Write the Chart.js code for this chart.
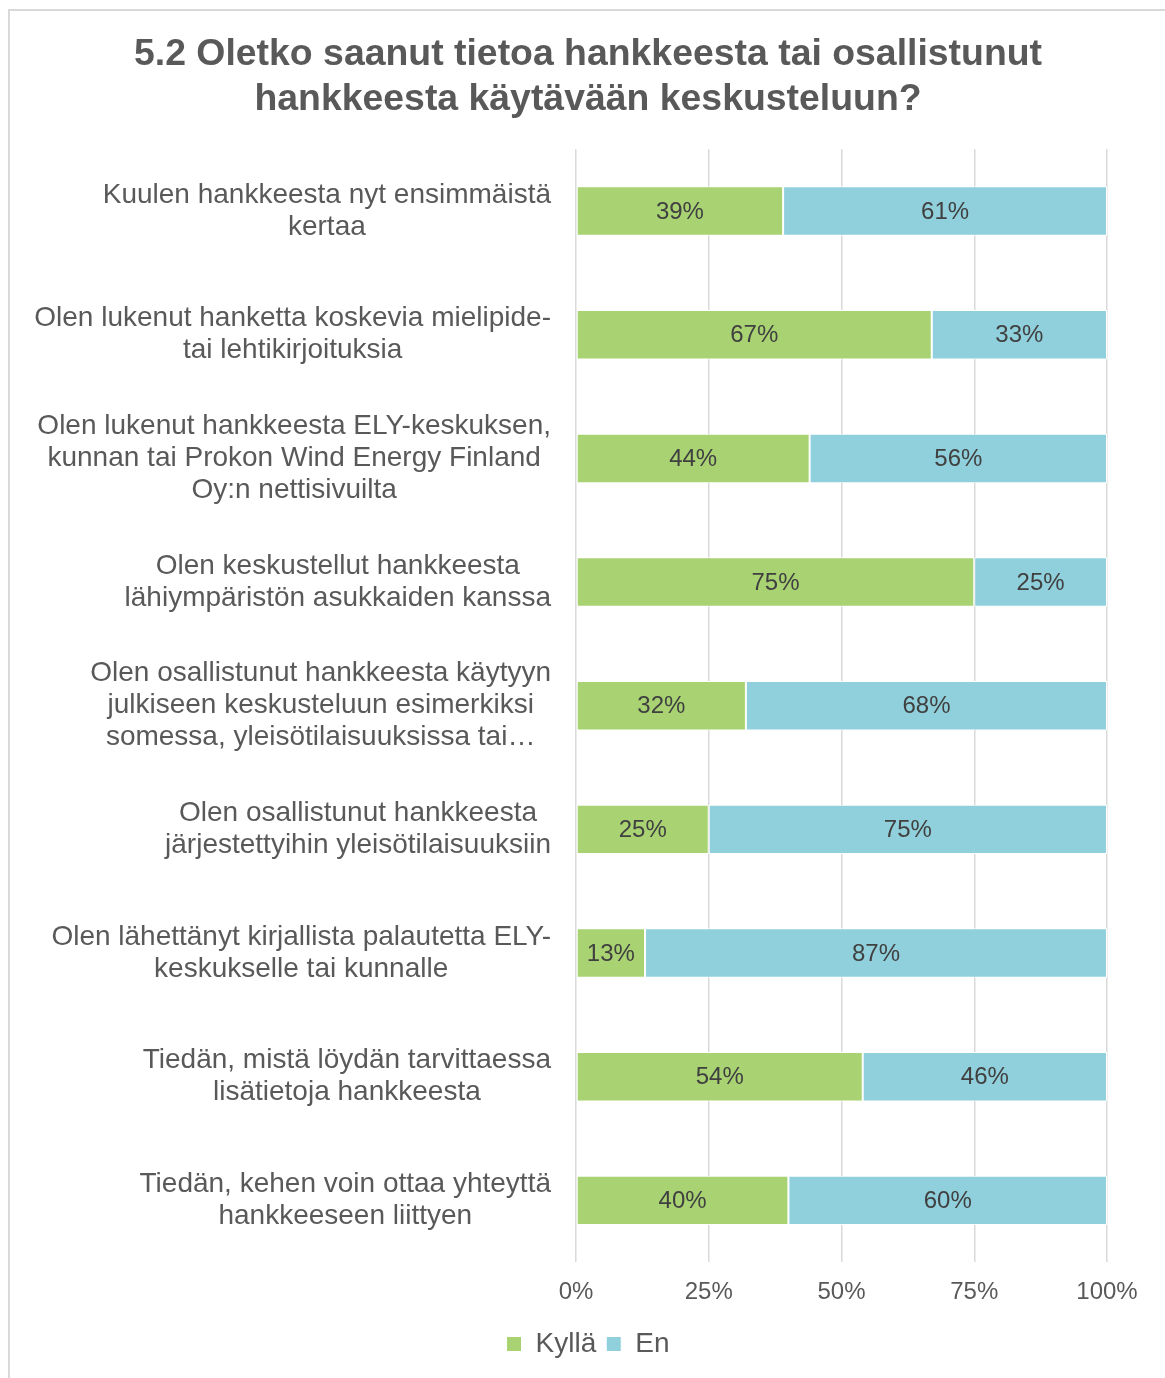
<!DOCTYPE html>
<html lang="fi">
<head>
<meta charset="utf-8">
<title>5.2 Oletko saanut tietoa hankkeesta</title>
<script src="https://cdn.jsdelivr.net/npm/chart.js@4.4.1/dist/chart.umd.min.js"></script>
<style>
  html, body { margin: 0; padding: 0; background: #fff; overflow: hidden; }
  #wrap { position: relative; width: 1165px; height: 1378px; }
  #frame {
    position: absolute; left: 8px; top: 9px; right: -10px; bottom: -10px;
    border-left: 2px solid #d9d9d9; border-top: 2px solid #d9d9d9;
    pointer-events: none;
  }
  canvas { display: block; }
</style>
</head>
<body>
<div id="wrap">
  <canvas id="chart" width="1165" height="1378"></canvas>
  <div id="frame"></div>
</div>
<script>
const categories = [
  ["Kuulen hankkeesta nyt ensimmäistä", "kertaa"],
  ["Olen lukenut hanketta koskevia mielipide-", "tai lehtikirjoituksia"],
  ["Olen lukenut hankkeesta ELY-keskuksen,", "kunnan tai Prokon Wind Energy Finland", "Oy:n nettisivuilta"],
  ["Olen keskustellut hankkeesta", "lähiympäristön asukkaiden kanssa"],
  ["Olen osallistunut hankkeesta käytyyn", "julkiseen keskusteluun esimerkiksi", "somessa, yleisötilaisuuksissa tai…"],
  ["Olen osallistunut hankkeesta", "järjestettyihin yleisötilaisuuksiin"],
  ["Olen lähettänyt kirjallista palautetta ELY-", "keskukselle tai kunnalle"],
  ["Tiedän, mistä löydän tarvittaessa", "lisätietoja hankkeesta"],
  ["Tiedän, kehen voin ottaa yhteyttä", "hankkeeseen liittyen"]
];
const kylla = [39, 67, 44, 75, 32, 25, 13, 54, 40];
const en = [61, 33, 56, 25, 68, 75, 87, 46, 60];
const seriesNames = ["Kyllä", "En"];
const xTicks = [0, 25, 50, 75, 100];

const FONT = '"Liberation Sans", Arial, sans-serif';
const TEXT = "#595959";
Chart.defaults.font.family = FONT;
Chart.defaults.color = TEXT;

// category labels: block right-aligned to the axis, lines centred to each other
const categoryLabels = {
  id: "categoryLabels",
  afterDraw(chart) {
    const ctx = chart.ctx;
    const y = chart.scales.y;
    const right = chart.chartArea.left - 25;
    const lh = 32;
    ctx.save();
    ctx.font = "28px " + FONT;
    ctx.fillStyle = TEXT;
    ctx.textAlign = "center";
    ctx.textBaseline = "middle";
    chart.data.labels.forEach((lines, i) => {
      const cy = y.getPixelForValue(i);
      const w = Math.max(...lines.map((l) => ctx.measureText(l).width));
      const cx = right - w / 2;
      lines.forEach((line, j) => {
        ctx.fillText(line, cx, cy + (j - (lines.length - 1) / 2) * lh);
      });
    });
    ctx.restore();
  }
};

// percentage labels in the middle of each segment
const barLabels = {
  id: "barLabels",
  afterDatasetsDraw(chart) {
    const ctx = chart.ctx;
    ctx.save();
    ctx.font = "24px " + FONT;
    ctx.fillStyle = "#404040";
    ctx.textAlign = "center";
    ctx.textBaseline = "middle";
    chart.data.datasets.forEach((ds, di) => {
      chart.getDatasetMeta(di).data.forEach((bar, i) => {
        const { x, y, base } = bar.getProps(["x", "y", "base"], true);
        ctx.fillText(ds.data[i] + "%", (x + base) / 2, y + 1);
      });
    });
    ctx.restore();
  }
};

new Chart(document.getElementById("chart"), {
  type: "bar",
  data: {
    labels: categories,
    datasets: [
      {
        label: seriesNames[0],
        data: kylla,
        backgroundColor: "#A9D373",
        borderColor: "#ffffff",
        borderWidth: 1,
        borderSkipped: false
      },
      {
        label: seriesNames[1],
        data: en,
        backgroundColor: "#90D0DC",
        borderColor: "#ffffff",
        borderWidth: 1,
        borderSkipped: false
      }
    ]
  },
  options: {
    indexAxis: "y",
    responsive: false,
    animation: false,
    devicePixelRatio: 1,
    layout: { padding: { left: 69, right: 58, top: 0, bottom: 10 } },
    datasets: { bar: { categoryPercentage: 1, barPercentage: 0.4 } },
    scales: {
      x: {
        stacked: true,
        min: 0,
        max: 100,
        afterBuildTicks: (s) => { s.ticks = xTicks.map((v) => ({ value: v })); },
        afterFit: (s) => { s.height -= 3; },
        grid: { color: "#d9d9d9", lineWidth: 1.5, drawTicks: false },
        border: { display: false },
        ticks: {
          padding: 16,
          font: { size: 24 },
          color: TEXT,
          callback: (v) => v + "%"
        }
      },
      y: {
        stacked: true,
        grid: { display: false },
        border: { display: false },
        ticks: { display: false },
        afterFit: (s) => { s.width = 507; }
      }
    },
    plugins: {
      title: {
        display: true,
        text: ["5.2 Oletko saanut tietoa hankkeesta tai osallistunut", "hankkeesta käytävään keskusteluun?"],
        font: { size: 37.4, weight: "bold", lineHeight: 1.18 },
        color: TEXT,
        padding: { top: 33, bottom: 28 }
      },
      legend: {
        position: "bottom",
        labels: {
          boxWidth: 15,
          boxHeight: 15,
          padding: 10,
          font: { size: 28 },
          color: TEXT
        }
      },
      tooltip: { enabled: false }
    }
  },
  plugins: [categoryLabels, barLabels]
});
</script>
</body>
</html>
